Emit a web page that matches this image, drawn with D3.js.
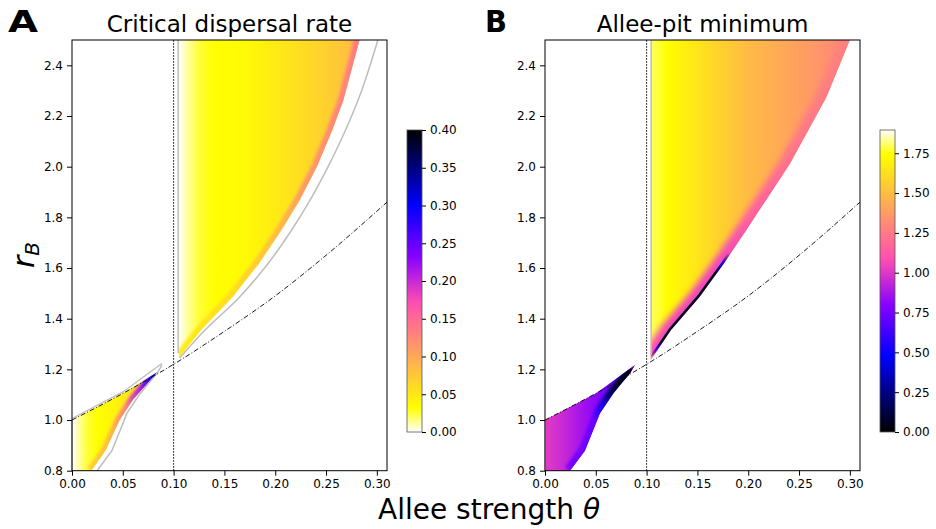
<!DOCTYPE html>
<html>
<head>
<meta charset="utf-8">
<script src="https://cdn.jsdelivr.net/npm/d3@7"></script>
<style>
  body { margin: 0; background: #fff; }
  svg { display: block; font-family: "DejaVu Sans", sans-serif; }
</style>
</head>
<body>
<svg id="fig" width="936" height="529"></svg>
<script>
// axis ranges and ticks
var thetaMax = 0.31, rMin = 0.8, rMax = 2.5;
var xTicks = [0, 0.05, 0.10, 0.15, 0.20, 0.25, 0.30];
var yTicks = [0.8, 1.0, 1.2, 1.4, 1.6, 1.8, 2.0, 2.2, 2.4];
var cbMaxA = 0.40, cbMaxB = 1.896;
var cbTicksA = [0, 0.05, 0.10, 0.15, 0.20, 0.25, 0.30, 0.35, 0.40];
var cbTicksB = [0, 0.25, 0.50, 0.75, 1.00, 1.25, 1.50, 1.75];

// dash-dot curve and dotted vertical line
var sepTheta = [0, 0.05, 0.10, 0.15, 0.20, 0.25, 0.31];
var sepR = [1.00, 1.105, 1.22, 1.35, 1.49, 1.65, 1.86];
var thetaDotted = 0.1;

// left edge of the upper wedge (both panels)
var wedgeLeftTheta = 0.105;
var greyLeftTheta = 0.1045;

// panel A, coloured part of the upper wedge: right edge (r -> theta)
var aUpR = [1.245, 1.355, 1.486, 1.618, 1.749, 1.867, 2.0, 2.143, 2.261, 2.5];
var aUpTheta = [0.105, 0.127, 0.158, 0.184, 0.206, 0.224, 0.241, 0.256, 0.267, 0.283];
// panel A, grey contour right of the upper wedge
var aGreyR = [1.245, 1.355, 1.486, 1.618, 1.749, 1.880, 2.0, 2.143, 2.3, 2.5];
var aGreyTheta = [0.106, 0.131, 0.165, 0.193, 0.216, 0.236, 0.252, 0.269, 0.285, 0.301];
// panel A, coloured lower patch: lower-right edge
var aLowTheta = [0.019, 0.033, 0.047, 0.060, 0.070, 0.079, 0.084];
var aLowR = [0.80, 0.88, 1.00, 1.08, 1.125, 1.165, 1.19];

// panel B, upper wedge right edge
var bUpR = [1.237, 1.355, 1.486, 1.618, 1.749, 2.012, 2.275, 2.5];
var bUpTheta = [0.104, 0.124, 0.152, 0.176, 0.198, 0.241, 0.277, 0.300];
// panel B lower patch edge (also grey contour in panel A)
var bLowTheta = [0.0246, 0.0393, 0.054, 0.0672, 0.0754, 0.0836, 0.0885];
var bLowR = [0.80, 0.879, 1.026, 1.105, 1.145, 1.184, 1.217];

// colour values: across theta, and along the edges by r
var aUpFillTheta = [0.105, 0.112, 0.125, 0.14, 0.17, 0.20, 0.24, 0.27, 0.285];
var aUpFillVal = [0.0, 0.01, 0.025, 0.032, 0.036, 0.048, 0.064, 0.08, 0.095];
var aUpEdgeR = [1.245, 1.5, 1.7, 1.9, 2.2, 2.5];
var aUpEdgeVal = [0.045, 0.06, 0.08, 0.11, 0.125, 0.135];

var aLowFillTheta = [0, 0.006, 0.015, 0.025, 0.04, 0.055, 0.07, 0.085];
var aLowFillVal = [0, 0.01, 0.025, 0.032, 0.04, 0.052, 0.075, 0.11];
var aLowEdgeR = [0.8, 0.95, 1.05, 1.12, 1.16, 1.19];
var aLowEdgeVal = [0.07, 0.09, 0.13, 0.21, 0.28, 0.30];

var bUpFillTheta = [0.105, 0.12, 0.14, 0.17, 0.20, 0.24, 0.28, 0.30];
var bUpFillVal = [1.80, 1.74, 1.68, 1.58, 1.49, 1.41, 1.33, 1.29];
var bUpEdgeR = [1.237, 1.4, 1.6, 1.8, 2.1, 2.5];
var bUpEdgeVal = [1.1, 1.05, 1.05, 1.15, 1.24, 1.28];
// dark line right on the edge (null: no line)
var bUpLineR = [1.25, 1.28, 1.31, 1.58, 1.62, 1.66];
var bUpLineVal = [null, 0.6, 0.06, 0.06, 0.5, null];

var bLowFillTheta = [0, 0.02, 0.04, 0.06, 0.08];
var bLowFillVal = [1.02, 0.94, 0.85, 0.76, 0.64];
var bLowEdgeR = [0.8, 1.0, 1.05, 1.1, 1.15, 1.2, 1.217];
var bLowEdgeVal = [0.76, 0.72, 0.55, 0.2, 0.05, 0.05, 0.9];

// matplotlib gnuplot2 colour map
function gnuplot2(t) {
  var c = function (v) { return Math.max(0, Math.min(1, v)); };
  t = c(t);
  var b = t < 0.25 ? 4 * t : t < 0.42 ? 1 : t < 0.92 ? -2 * t + 1.84 : t / 0.08 - 11.5;
  return d3.rgb(c(t / 0.32 - 0.78125) * 255, c(2 * t - 0.84) * 255, c(b) * 255).formatHex();
}

var svg = d3.select('#fig');
var defs = svg.append('defs');
[['soft', 1.6], ['softer', 3], ['sharp', 0.5]].forEach(function (f) {
  defs.append('filter').attr('id', f[0])
      .attr('x', '-20%').attr('y', '-20%').attr('width', '140%').attr('height', '140%')
    .append('feGaussianBlur').attr('stdDeviation', f[1]);
});

var y = d3.scaleLinear().domain([rMin, rMax]).range([470.7, 40]);

var pairs = function (a, b) { return d3.zip(a, b); };

function hGrad(id, ts, vs, x, color) {
  var x1 = x(ts[0]), x2 = x(ts[ts.length - 1]);
  defs.append('linearGradient').attr('id', id)
      .attr('gradientUnits', 'userSpaceOnUse')
      .attr('x1', x1).attr('x2', x2).attr('y1', 0).attr('y2', 0)
    .selectAll('stop').data(ts).join('stop')
      .attr('offset', function (d) { return (x(d) - x1) / (x2 - x1); })
      .attr('stop-color', function (d, i) { return color(vs[i]); });
}

function vGrad(id, rs, vs, color) {
  var y1 = y(rs[0]), y2 = y(rs[rs.length - 1]);
  defs.append('linearGradient').attr('id', id)
      .attr('gradientUnits', 'userSpaceOnUse')
      .attr('x1', 0).attr('x2', 0).attr('y1', y1).attr('y2', y2)
    .selectAll('stop').data(rs).join('stop')
      .attr('offset', function (d) { return (y(d) - y1) / (y2 - y1); })
      .attr('stop-color', function (d, i) { return vs[i] == null ? '#000' : color(vs[i]); })
      .attr('stop-opacity', function (d, i) { return vs[i] == null ? 0 : 1; });
}

var panels = [
  {
    key: 'A', title: 'Critical dispersal rate', range: [72, 387],
    color: function (v) { return gnuplot2(1 - v / cbMaxA); },
    upEdge: pairs(aUpTheta, aUpR), lowEdge: pairs(aLowTheta, aLowR),
    upFill: [aUpFillTheta, aUpFillVal],
    upBands: [[aUpEdgeR, aUpEdgeVal, 11, 'soft']],
    lowFill: [aLowFillTheta, aLowFillVal],
    lowBands: [[aLowEdgeR, aLowEdgeVal, 9, 'soft']],
    grey: true,
    cb: { x: 407, w: 15, max: cbMaxA, ticks: cbTicksA },
    letter: { x: 8, w: 30 }
  },
  {
    key: 'B', title: 'Allee-pit minimum', range: [545, 860],
    color: function (v) { return gnuplot2(v / cbMaxB); },
    upEdge: pairs(bUpTheta, bUpR), lowEdge: pairs(bLowTheta, bLowR),
    upFill: [bUpFillTheta, bUpFillVal],
    upBands: [[bUpEdgeR, bUpEdgeVal, 20, 'softer'], [bUpLineR, bUpLineVal, 5, 'sharp']],
    lowFill: [bLowFillTheta, bLowFillVal],
    lowBands: [[bLowEdgeR, bLowEdgeVal, 12, 'soft']],
    grey: false,
    cb: { x: 880, w: 15, max: cbMaxB, ticks: cbTicksB },
    letter: { x: 485, w: 22 }
  }
];

panels.forEach(function (p) {
  var x = d3.scaleLinear().domain([0, thetaMax]).range(p.range);
  var line = d3.line().x(function (d) { return x(d[0]); }).y(function (d) { return y(d[1]); });
  var smooth = d3.line().curve(d3.curveCatmullRom)
      .x(function (d) { return x(d[0]); }).y(function (d) { return y(d[1]); });
  var g = svg.append('g');
  var sep = pairs(sepTheta, sepR);

  // upper wedge: left edge, then its right edge bottom to top
  var upPoly = [[wedgeLeftTheta, rMax]].concat(p.upEdge);
  // lower patch: left side, top along the dash-dot curve, back down the edge
  var tip = p.lowEdge[p.lowEdge.length - 1];
  var lowPoly = [[0, rMin]]
      .concat(sep.filter(function (d) { return d[0] < tip[0]; }))
      .concat(p.lowEdge.slice().reverse());

  [['up', upPoly, p.upFill, p.upBands, p.upEdge],
   ['low', lowPoly, p.lowFill, p.lowBands, p.lowEdge]].forEach(function (r) {
    var id = p.key + r[0];
    hGrad(id + 'fill', r[2][0], r[2][1], x, p.color);
    defs.append('clipPath').attr('id', id + 'clip')
      .append('path').attr('d', line(r[1]) + 'Z');
    g.append('path')
        .attr('d', line(r[1]) + 'Z')
        .attr('fill', 'url(#' + id + 'fill)');
    var clipped = g.append('g').attr('clip-path', 'url(#' + id + 'clip)');
    r[3].forEach(function (b, i) {
      vGrad(id + 'band' + i, b[0], b[1], p.color);
      clipped.append('path')
          .attr('d', line(r[4]))
          .attr('fill', 'none')
          .attr('stroke', 'url(#' + id + 'band' + i + ')')
          .attr('stroke-width', b[2])
          .attr('filter', 'url(#' + b[3] + ')');
    });
  });

  // grey contour lines
  var grey = function (pts, path) {
    return g.append('path').attr('d', (path || line)(pts)).attr('fill', 'none')
        .attr('stroke', '#bdbdbd').attr('stroke-width', 1.5);
  };
  grey([[greyLeftTheta, p.upEdge[0][1] + 0.02], [greyLeftTheta, rMax]]);
  grey([[0, rMin], [0, sepR[0]]]);
  if (p.grey) {
    grey(pairs(aGreyTheta, aGreyR), smooth);
    grey(pairs(bLowTheta, bLowR));
    grey(sep.filter(function (d) { return d[0] < bLowTheta[bLowTheta.length - 1]; })
          .concat([[bLowTheta[bLowTheta.length - 1], bLowR[bLowR.length - 1]]]))
        .attr('transform', 'translate(0,-1.5)').attr('stroke-width', 1.3);
  }

  // dotted vertical and dash-dot curve
  g.append('line')
      .attr('x1', x(thetaDotted)).attr('x2', x(thetaDotted))
      .attr('y1', y(rMin)).attr('y2', y(rMax))
      .attr('stroke', '#000').attr('stroke-width', 1).attr('stroke-dasharray', '1.5,1.5');
  g.append('path')
      .attr('d', d3.line().curve(d3.curveMonotoneX)
        .x(function (d) { return x(d[0]); }).y(function (d) { return y(d[1]); })(sep))
      .attr('fill', 'none').attr('stroke', '#000').attr('stroke-width', 0.9)
      .attr('stroke-dasharray', '5,2,1,2');

  // axes
  var xAxis = d3.axisBottom(x).tickValues(xTicks).tickFormat(d3.format('.2f')).tickSize(5).tickPadding(4);
  var yAxis = d3.axisLeft(y).tickValues(yTicks).tickFormat(d3.format('.1f')).tickSize(5).tickPadding(4);
  var ax = g.append('g').attr('transform', 'translate(0,' + y(rMin) + ')').call(xAxis);
  var ay = g.append('g').attr('transform', 'translate(' + x(0) + ',0)').call(yAxis);
  [ax, ay].forEach(function (a) {
    a.select('.domain').remove();
    a.selectAll('text').attr('font-size', 12).attr('font-family', 'DejaVu Sans').attr('fill', '#000');
    a.selectAll('line').attr('stroke', '#000').attr('stroke-width', 1);
  });
  g.append('rect')
      .attr('x', x(0)).attr('y', y(rMax))
      .attr('width', x(thetaMax) - x(0)).attr('height', y(rMin) - y(rMax))
      .attr('fill', 'none').attr('stroke', '#000').attr('stroke-width', 1);

  // title and panel letter
  g.append('text')
      .attr('x', (x(0) + x(thetaMax)) / 2).attr('y', 32)
      .attr('text-anchor', 'middle').attr('font-size', 23)
      .text(p.title);
  g.append('text')
      .attr('x', p.letter.x).attr('y', 32)
      .attr('font-size', 30).attr('font-weight', 'bold')
      .attr('textLength', p.letter.w).attr('lengthAdjust', 'spacingAndGlyphs')
      .text(p.key);

  // colour bar
  var cy = d3.scaleLinear().domain([0, p.cb.max]).range([432, 130]);
  var cid = p.key + 'cbar';
  defs.append('linearGradient').attr('id', cid)
      .attr('x1', 0).attr('x2', 0).attr('y1', 1).attr('y2', 0)
    .selectAll('stop').data(d3.range(0, 1.0001, 1 / 64)).join('stop')
      .attr('offset', function (d) { return d; })
      .attr('stop-color', function (d) { return p.color(d * p.cb.max); });
  g.append('rect')
      .attr('x', p.cb.x).attr('y', cy(p.cb.max))
      .attr('width', p.cb.w).attr('height', cy(0) - cy(p.cb.max))
      .attr('fill', 'url(#' + cid + ')')
      .attr('stroke', '#555').attr('stroke-width', 0.8);
  var cax = g.append('g').attr('transform', 'translate(' + (p.cb.x + p.cb.w) + ',0)')
      .call(d3.axisRight(cy).tickValues(p.cb.ticks).tickFormat(d3.format('.2f')).tickSize(4).tickPadding(4));
  cax.select('.domain').remove();
  cax.selectAll('text').attr('font-size', 12).attr('font-family', 'DejaVu Sans').attr('fill', '#000');
  cax.selectAll('line').attr('stroke', '#000');
});

// shared axis labels
svg.append('text')
    .attr('transform', 'translate(34,255) rotate(-90)')
    .attr('text-anchor', 'middle').attr('font-size', 30)
    .call(function (t) {
      t.append('tspan').attr('font-style', 'italic').text('r');
      t.append('tspan').attr('font-style', 'italic').attr('font-size', 20).attr('dy', 5).text('B');
    });
svg.append('text')
    .attr('x', 378).attr('y', 519).attr('font-size', 28)
    .call(function (t) {
      t.append('tspan').text('Allee strength ');
      t.append('tspan').attr('font-style', 'italic').text('θ');
    });
</script>
</body>
</html>
